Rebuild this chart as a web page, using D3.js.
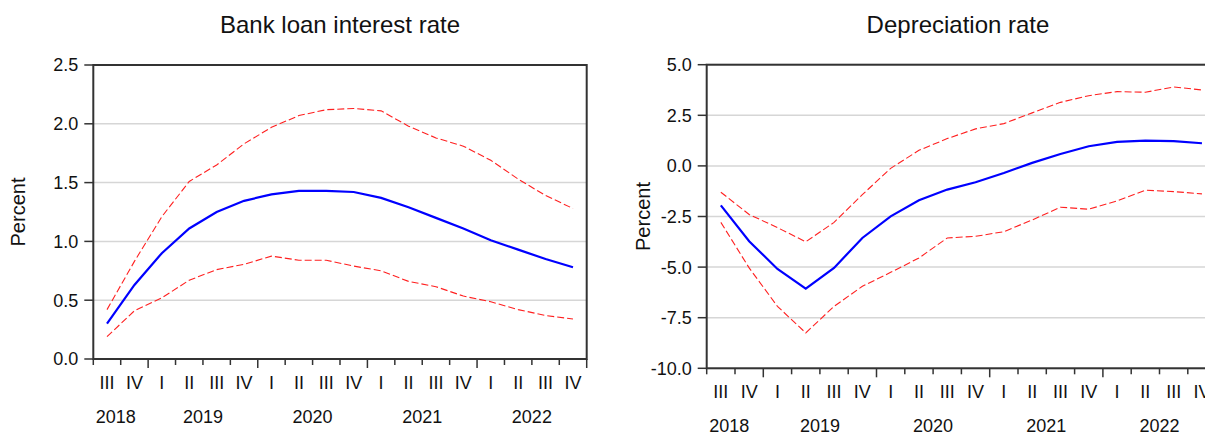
<!DOCTYPE html>
<html><head><meta charset="utf-8">
<script src="https://cdn.jsdelivr.net/npm/d3@7"></script>
<style>
body{margin:0;background:#fff;}
svg{display:block;font-family:"Liberation Sans",Arial,sans-serif;}
</style>
</head><body>
<svg id="chart" width="1205" height="434"></svg>
<script>
// ---- data ----
const periods = ["2018Q3","2018Q4","2019Q1","2019Q2","2019Q3","2019Q4","2020Q1","2020Q2","2020Q3","2020Q4","2021Q1","2021Q2","2021Q3","2021Q4","2022Q1","2022Q2","2022Q3","2022Q4"];
const quarterLabels = ["I","II","III","IV"];
const yearLabels = ["2018","2019","2020","2021","2022"];

const loanMean  = [0.30,0.63,0.90,1.11,1.25,1.345,1.40,1.43,1.43,1.42,1.37,1.29,1.20,1.11,1.01,0.93,0.85,0.78];
const loanUpper = [0.42,0.83,1.21,1.51,1.65,1.83,1.97,2.07,2.12,2.13,2.11,1.98,1.88,1.81,1.69,1.53,1.39,1.28];
const loanLower = [0.19,0.41,0.52,0.67,0.76,0.805,0.875,0.84,0.84,0.79,0.75,0.66,0.615,0.535,0.487,0.42,0.37,0.34];
const loanTicks = [0.0,0.5,1.0,1.5,2.0,2.5];

const depMean  = [-1.95,-3.72,-5.09,-6.06,-5.04,-3.56,-2.49,-1.70,-1.17,-0.81,-0.35,0.15,0.59,0.97,1.19,1.25,1.22,1.12];
const depUpper = [-1.30,-2.40,-3.05,-3.75,-2.79,-1.42,-0.12,0.77,1.35,1.83,2.09,2.62,3.14,3.47,3.67,3.64,3.90,3.75];
const depLower = [-2.79,-5.04,-6.94,-8.25,-6.94,-5.95,-5.26,-4.55,-3.56,-3.48,-3.25,-2.67,-2.04,-2.14,-1.73,-1.20,-1.27,-1.38];
const depTicks = [-10.0,-7.5,-5.0,-2.5,0.0,2.5,5.0];

// ---- drawing ----
const svg = d3.select("#chart");

function panel(cfg){
  const g = svg.append("g");
  const x = d3.scaleBand().domain(periods).range([cfg.x0, cfg.x1]).padding(0);
  const bw = x.bandwidth();
  const y = d3.scaleLinear().domain(cfg.domain).range([cfg.y1, cfg.y0]);
  const cx = (d,i)=> x(periods[i]) + bw/2;

  // gridlines
  g.append("g").selectAll("line").data(cfg.ticks).join("line")
    .attr("x1", cfg.x0).attr("x2", cfg.x1)
    .attr("y1", d=>y(d)).attr("y2", d=>y(d))
    .attr("stroke","#d6d6d6").attr("stroke-width",1.5);

  const line = d3.line().x(cx).y(d=>y(d));
  [cfg.upper, cfg.lower].forEach(s=>{
    g.append("path").attr("d", line(s)).attr("fill","none")
      .attr("stroke","#ff2020").attr("stroke-width",1.1)
      .attr("stroke-dasharray","7,3");
  });
  g.append("path").attr("d", line(cfg.mean)).attr("fill","none")
    .attr("stroke","#0000ff").attr("stroke-width",2.2);

  // frame
  g.append("rect").attr("x",cfg.x0).attr("y",y(cfg.domain[1]))
    .attr("width",cfg.x1-cfg.x0).attr("height",y(cfg.domain[0])-y(cfg.domain[1]))
    .attr("fill","none").attr("stroke","#333").attr("stroke-width",2);

  // y ticks & labels
  g.append("g").selectAll("line").data(cfg.ticks).join("line")
    .attr("x1", cfg.x0-9).attr("x2", cfg.x0)
    .attr("y1", d=>y(d)).attr("y2", d=>y(d))
    .attr("stroke","#333").attr("stroke-width",1.5);
  g.append("g").selectAll("text").data(cfg.ticks).join("text")
    .attr("x", cfg.x0-15).attr("y", d=>y(d)).attr("dy","0.36em")
    .attr("text-anchor","end").attr("font-size",18).attr("fill","#111")
    .text(d=>d.toFixed(1));

  // x ticks at quarter boundaries
  const yb = y(cfg.domain[0]);
  const bounds = d3.range(periods.length+1);
  g.append("g").selectAll("line").data(bounds).join("line")
    .attr("x1", k=>cfg.x0 + k*bw).attr("x2", k=>cfg.x0 + k*bw)
    .attr("y1", yb)
    .attr("y2", k=> yb + ((k===periods.length || (k>0 && periods[k].endsWith("Q1"))) ? 9 : 6))
    .attr("stroke","#333").attr("stroke-width",1.5);

  // quarter labels
  g.append("g").selectAll("text").data(periods).join("text")
    .attr("x", (d,i)=>cx(d,i)).attr("y", yb+30)
    .attr("text-anchor","middle").attr("font-size",18).attr("fill","#111")
    .text(d=>quarterLabels[+d.slice(-1)-1]);

  // year labels
  yearLabels.forEach(yr=>{
    const qs = periods.filter(p=>p.startsWith(yr));
    const start = x(qs[0]);
    const end = x(qs[qs.length-1]) + bw;
    const partial = qs.length < 4;
    g.append("text")
      .attr("x", partial ? start+2.5 : (start+end)/2)
      .attr("y", yb+64)
      .attr("text-anchor", partial ? "start" : "middle")
      .attr("font-size",18).attr("fill","#111")
      .text(yr);
  });

  // y axis title
  const ym = (cfg.y0+cfg.y1)/2;
  g.append("text").attr("transform",`translate(${cfg.ylabX},${ym}) rotate(-90)`)
    .attr("dy","0.36em").attr("text-anchor","middle").attr("font-size",20).attr("fill","#111")
    .text("Percent");

  // title
  g.append("text").attr("x",cfg.titleX).attr("y",33)
    .attr("text-anchor","middle").attr("font-size",24).attr("fill","#111")
    .text(cfg.title);
}

panel({title:"Bank loan interest rate", x0:93.3, x1:586.7, y0:65, y1:359,
  domain:[0,2.5], ticks:loanTicks, mean:loanMean, upper:loanUpper, lower:loanLower,
  ylabX:18, titleX:340});
panel({title:"Depreciation rate", x0:706.7, x1:1216.1, y0:64.7, y1:368.3,
  domain:[-10,5], ticks:depTicks, mean:depMean, upper:depUpper, lower:depLower,
  ylabX:643, titleX:958});
</script>
</body></html>
